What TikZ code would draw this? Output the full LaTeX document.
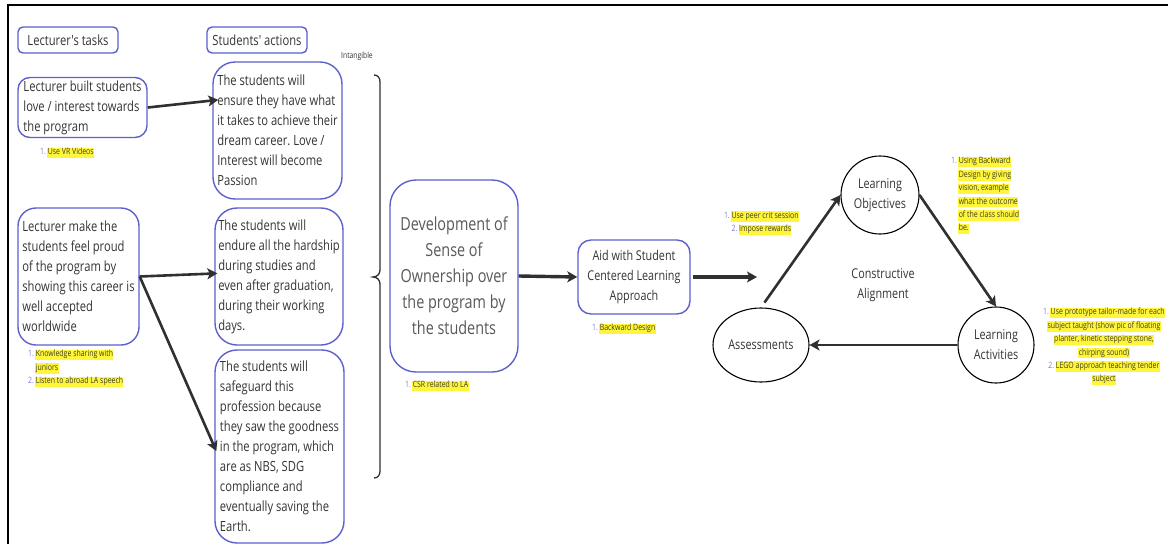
\documentclass[tikz,border=0pt]{standalone}
\usepackage{fontspec}
\setmainfont{Open Sans}[FakeStretch=0.8, Ligatures=TeXOff]
\usetikzlibrary{arrows.meta,shapes.geometric}

\definecolor{boxblue}{RGB}{92,96,204}
\definecolor{ink}{RGB}{51,51,51}
\definecolor{softink}{RGB}{88,88,88}
\definecolor{arrowink}{RGB}{48,48,48}
\definecolor{hlyellow}{RGB}{255,246,60}
\definecolor{numblue}{RGB}{120,124,214}
\definecolor{notetext}{RGB}{62,62,36}

% highlighted note line and coloured list number
\newcommand\hlstrut{\rule[-3pt]{0pt}{9.8pt}}
\newcommand\hl[1]{{\setlength{\fboxsep}{0.3pt}\colorbox{hlyellow}{\hlstrut#1}}}
\newcommand\lnum[1]{\textcolor{numblue}{#1}\,}
\newcommand\lindent{\phantom{\lnum{1.}}}
\frenchspacing

\begin{document}
\begin{tikzpicture}[x=1pt,y=-1pt,
  box/.style={draw=boxblue, line width=1.4pt, rounded corners=#1, inner sep=3pt,
    text=ink, align=left, font=\fontsize{14}{20}\selectfont},
  headbox/.style={box=5pt, font=\fontsize{14}{18}\selectfont},
  note/.style={inner sep=0pt, text=notetext, font=\fontsize{8.7}{13.4}\selectfont},
  flow/.style={draw=arrowink, line width=2.6pt,
    -{Stealth[length=10pt,width=11pt,inset=2.5pt]}},
  bigflow/.style={flow, line width=3.4pt},
  stage/.style={draw=black, line width=1.1pt, text=ink, align=center,
    font=\fontsize{13.5}{20}\selectfont, inner sep=1pt}
]
\useasboundingbox (0,0) rectangle (1168,544);

% frame
\draw[line width=2.2pt] (7.7,544) -- (7.7,5) -- (1168,5);

% column headings
\node[headbox, minimum width=100pt, minimum height=26pt] (tasks) at (68,40) {Lecturer's tasks};
\node[headbox, minimum width=100pt, minimum height=26pt] (actions) at (257,40) {Students' actions};
\node[note, text=ink, font=\fontsize{8.5}{10}\selectfont] (intang) at (357,56) {Intangible};

% lecturer's tasks
\node[box=12pt, minimum width=129pt, minimum height=59pt] (A1) at (82.5,107.5)
  {Lecturer built students\\love / interest towards\\the program};
\node[box=18pt, minimum width=121pt, minimum height=137pt] (A2) at (78.5,276.5)
  {Lecturer make the\\students feel proud\\of the program by\\showing this career is\\well accepted\\worldwide};

% students' actions
\node[box=22pt, minimum width=129pt, minimum height=137pt] (S1) at (277.5,130.5)
  {The students will\\ensure they have what\\it takes to achieve their\\dream career. Love /\\Interest will become\\Passion};
\node[box=22pt, minimum width=128pt, minimum height=137pt] (S2) at (279,276.5)
  {The students will\\endure all the hardship\\during studies and\\even after graduation,\\during their working\\days.};
\node[box=22pt, minimum width=129pt, minimum height=193pt] (S3) at (279.5,446.5)
  {The students will\\safeguard this\\profession because\\they saw the goodness\\in the program, which\\are as NBS, SDG\\compliance and\\eventually saving the\\Earth.};

% brace gathering the students' actions
\draw[arrowink, line width=1.3pt]
  (374,75) .. controls (378,75) and (380,78) .. (380,82) -- (380,270)
  .. controls (380,274) and (377,277) .. (373,277)
  .. controls (377,277) and (380,280) .. (380,284) -- (380,471)
  .. controls (380,475) and (378,478) .. (374,478);

% outcome and approach
\node[box=26pt, align=center, text=softink, font=\fontsize{18}{26}\selectfont,
  minimum width=128pt, minimum height=192pt] (dev) at (454,276)
  {Development of\\Sense of\\Ownership over\\the program by\\the students};
\node[box=13pt, align=center, font=\fontsize{13.5}{20}\selectfont,
  minimum width=112pt, minimum height=74pt] (aid) at (634,277)
  {Aid with Student\\Centered Learning\\Approach};
\coordinate (aidout) at (757,277);

% constructive alignment cycle
\node[stage, circle, minimum size=78pt] (LO) at (880,195) {Learning\\Objectives};
\node[stage, circle, minimum size=76pt] (LA) at (996,345) {Learning\\Activities};
\node[stage, ellipse, minimum width=96pt, minimum height=74pt] (AS) at (761,345) {Assessments};
\node[text=ink, align=center, font=\fontsize{13.5}{20}\selectfont] (CA) at (883,285) {Constructive\\Alignment};

% connectors
\draw[flow, shorten >=-6pt] (A1.east) -- ([yshift=30pt]S1.west);
\draw[flow, shorten >=-3pt] (A2.east) -- ([yshift=3pt]S2.west);
\draw[flow, shorten >=-5pt] (A2.east) -- (S3.west);
\draw[bigflow] (dev.east) -- (aid.west);
\draw[bigflow, shorten <=2pt] (aid.east) -- (aidout);
\draw[flow, shorten <=6pt] (AS.north) -- (LO.west);
\draw[flow] (LO.east) -- (LA.north);
\draw[flow] (LA.west) -- (AS.east);

% notes
\node[note, anchor=west] (nA1) at (40,153) {\lnum{1.}\hl{Use VR Videos}};
\node[note, anchor=north west, align=left] (nA2) at (28,349.5)
  {\lnum{1.}\hl{Knowledge sharing with}\\\lindent\hl{juniors}\\\lnum{2.}\hl{Listen to abroad LA speech}};
\node[note, anchor=west] (ndev) at (405,386) {\lnum{1.}\hl{CSR related to LA}};
\node[note, anchor=west] (naid) at (592,329) {\lnum{1.}\hl{Backward Design}};
\node[note, align=center] (nAS) at (761.5,223)
  {\lnum{1.}\hl{Use peer crit session}\\\lnum{2.}\hl{Impose rewards}};
\node[note, anchor=north west, align=left] (nLO) at (951,156.5)
  {\lnum{1.}\hl{Using Backward}\\\lindent\hl{Design by giving}\\\lindent\hl{vision, example}\\\lindent\hl{what the outcome}\\\lindent\hl{of the class should}\\\lindent\hl{be.}};
\node[note, align=center] (nLA) at (1104,346.5)
  {\lnum{1.}\hl{Use prototype tailor-made for each}\\\hl{subject taught (show pic of floating}\\\hl{planter, kinetic stepping stone,}\\\hl{chirping sound)}\\\lnum{2.}\hl{LEGO approach teaching tender}\\\hl{subject}};
\end{tikzpicture}
\end{document}
